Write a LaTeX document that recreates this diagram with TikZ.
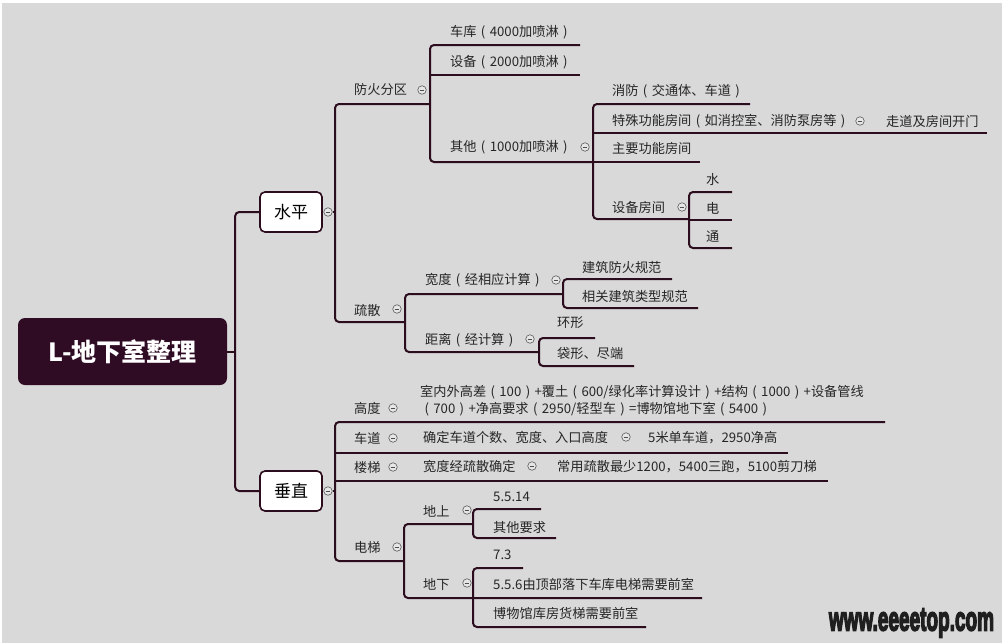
\documentclass[tikz,border=0pt]{standalone}
\usepackage{fontspec}
\setmainfont{Noto Sans CJK SC}
\newfontfamily\wmfont{Liberation Sans}
\definecolor{bg}{HTML}{D9D9D9}
\definecolor{ln}{HTML}{2B0D1E}
\definecolor{rootc}{HTML}{2F0B24}
\definecolor{txtc}{HTML}{262626}
\definecolor{cfill}{HTML}{E6E6E6}
\newcommand\ulc[4]{\coordinate (#1-s) at (#2,#4);\coordinate (#1-e) at (#3,#4);}
\newcommand\lpar{\makebox[1em]{(}}
\newcommand\rpar{\makebox[1em]{)}}
\begin{document}
\begin{tikzpicture}[x=1pt,y=-1pt,
  conn/.style={draw=ln,line width=2pt,rounded corners=4pt},
  uline/.style={draw=ln,line width=2pt},
  t/.style={anchor=west,inner sep=0pt,text=txtc,font=\fontsize{13.2}{16}\selectfont},
  coll/.style={circle,draw=black!65,fill=cfill,line width=0.6pt,minimum size=8.5pt,inner sep=0pt,
    path picture={\draw[black!70,line width=0.7pt]([xshift=-2.3pt]path picture bounding box.center)--([xshift=2.3pt]path picture bounding box.center);}},
  topbox/.style={draw=ln,line width=1.6pt,fill=white,rounded corners=5pt,minimum width=62pt,minimum height=40pt,inner sep=0pt,text=black,font=\fontsize{17}{20}\selectfont},
  rootbox/.style={fill=rootc,rounded corners=7pt,minimum width=209pt,minimum height=67pt,inner sep=0pt,text=white,font=\fontsize{25}{30}\selectfont\bfseries},
  wm/.style={inner sep=0pt,font=\wmfont\bfseries\fontsize{25}{28}\selectfont}]
% background
\path[fill=white] (0,0) rectangle (1007,643);
\path[fill=bg] (2,3) rectangle (1002,643);
\useasboundingbox (0,0) rectangle (1007,643);

% underline coordinates
\ulc{fh}{335}{430}{104}
\ulc{ck}{430}{580}{45}
\ulc{sb}{430}{580}{75}
\ulc{qt}{430}{593}{162}
\ulc{xf}{593}{750}{104}
\ulc{ts}{593}{868}{133}
\ulc{zd}{868}{987}{133}
\ulc{zy}{593}{700}{162}
\ulc{sf}{593}{689}{219}
\ulc{sh}{689}{732}{192}
\ulc{di}{689}{732}{220}
\ulc{tg}{689}{732}{248}
\ulc{ss}{335}{405}{322}
\ulc{kd}{405}{563}{294}
\ulc{jz}{563}{672}{279}
\ulc{xg}{563}{698}{308}
\ulc{jl}{405}{539}{352}
\ulc{hx}{539}{595}{338}
\ulc{dx}{539}{634}{366}
\ulc{gd}{335}{410}{422}
\ulc{gdk}{410}{885}{422}
\ulc{cd}{335}{410}{453}
\ulc{cdk}{410}{636}{453}
\ulc{cdd}{636}{788}{453}
\ulc{lt}{335}{410}{481}
\ulc{ltk}{410}{545}{481}
\ulc{ltd}{545}{828}{481}
\ulc{dt}{335}{404}{561}
\ulc{ds}{404}{473}{524}
\ulc{aa}{473}{541}{509}
\ulc{ab}{473}{556}{538}
\ulc{dxx}{404}{473}{598}
\ulc{ba}{473}{523}{568}
\ulc{bb}{473}{702}{598}
\ulc{bc}{473}{646}{627}

% root and main boxes
\node[rootbox] (root) at (122.5,351.5) {L-地下室整理};
\node[topbox] (sp) at (291,212) {水平};
\node[topbox] (cz) at (291,491) {垂直};

% connectors
\draw[conn] (root.east) -- ++(9,0);
\draw[conn] (sp.west) -- ++(-24,0) |- (cz.west);
\draw[conn] (fh-e) -- (fh-s) -- (ss-s) -- (ss-e);
\draw[conn] (ck-e) -- (ck-s) -- (qt-s) -- (qt-e);
\draw[uline] (sb-s) -- (sb-e);
\draw[conn] (xf-e) -- (xf-s) -- (sf-s) -- (sf-e);
\draw[uline] (ts-s) -- (zd-e);
\draw[uline] (zy-s) -- (zy-e);
\draw[conn] (sh-e) -- (sh-s) -- (tg-s) -- (tg-e);
\draw[uline] (di-s) -- (di-e);
\draw[conn] (kd-e) -- (kd-s) -- (jl-s) -- (jl-e);
\draw[conn] (jz-e) -- (jz-s) -- (xg-s) -- (xg-e);
\draw[conn] (hx-e) -- (hx-s) -- (dx-s) -- (dx-e);
\draw[conn] (gdk-e) -- (gd-s) -- (dt-s) -- (dt-e);
\draw[uline] (cd-s) -- (cdd-e);
\draw[uline] (lt-s) -- (ltd-e);
\draw[conn] (ds-e) -- (ds-s) -- (dxx-s) -- (bb-e);
\draw[conn] (aa-e) -- (aa-s) -- (ab-s) -- (ab-e);
\draw[conn] (ba-e) -- (ba-s) -- (bc-s) -- (bc-e);

% collapse circles
\node[coll] (c-sp) at (328,212) {};
\node[coll] (c-cz) at (328,491) {};
\draw[uline] (c-sp.east) -- (c-sp.east -| fh-s);
\draw[uline] (c-cz.east) -- (c-cz.east -| gd-s);
\node[coll] (c-fh) at (422,90) {};
\node[coll] (c-qt) at (585,147) {};
\node[coll] (c-ts) at (860,121) {};
\node[coll] (c-sf) at (682,207) {};
\node[coll] (c-ss) at (397,309) {};
\node[coll] (c-kd) at (556,280) {};
\node[coll] (c-jl) at (530,339) {};
\node[coll] (c-gd) at (393,408) {};
\node[coll] (c-cd) at (393,438) {};
\node[coll] (c-cdk) at (626,437) {};
\node[coll] (c-lt) at (393,467) {};
\node[coll] (c-ltk) at (532,466) {};
\node[coll] (c-dt) at (397,547) {};
\node[coll] (c-ds) at (467,510) {};
\node[coll] (c-dxx) at (467,583) {};

% texts
\node[t] (fh) at (354,90) {防火分区};
\node[t] (ck) at (450,32) {车库\lpar 4000加喷淋\rpar};
\node[t] (sb) at (450,62) {设备\lpar 2000加喷淋\rpar};
\node[t] (qt) at (450,147) {其他\lpar 1000加喷淋\rpar};
\node[t] (xf) at (612,91) {消防\lpar 交通体、车道\rpar};
\node[t] (ts) at (612,121) {特殊功能房间\lpar 如消控室、消防泵房等\rpar};
\node[t] (zd) at (886,121) {走道及房间开门};
\node[t] (zy) at (612,148) {主要功能房间};
\node[t] (sf) at (612,207) {设备房间};
\node[t] (sh) at (706,179) {水};
\node[t] (di) at (706,208) {电};
\node[t] (tg) at (706,237) {通};
\node[t] (ss) at (354,310) {疏散};
\node[t] (kd) at (425,280) {宽度\lpar 经相应计算\rpar};
\node[t] (jz) at (582,267) {建筑防火规范};
\node[t] (xg) at (582,296) {相关建筑类型规范};
\node[t] (jl) at (425,340) {距离\lpar 经计算\rpar};
\node[t] (hx) at (557,323) {环形};
\node[t] (dx) at (557,354) {袋形、尽端};
\node[t] (gd) at (354,408) {高度};
\node[t,align=left,font=\fontsize{13.2}{17}\selectfont] (gdk) at (420,400.5) {室内外高差\lpar 100\rpar+覆土\lpar 600/绿化率计算设计\rpar+结构\lpar 1000\rpar+设备管线\\\lpar 700\rpar+净高要求\lpar 2950/轻型车\rpar=博物馆地下室\lpar 5400\rpar};
\node[t] (cd) at (354,438) {车道};
\node[t] (cdk) at (423,438) {确定车道个数、宽度、入口高度};
\node[t] (cdd) at (648,438) {5米单车道，2950净高};
\node[t] (lt) at (354,467) {楼梯};
\node[t] (ltk) at (423,467) {宽度经疏散确定};
\node[t] (ltd) at (557,467) {常用疏散最少1200，5400三跑，5100剪刀梯};
\node[t] (dt) at (354,547) {电梯};
\node[t] (ds) at (423,511) {地上};
\node[t] (aa) at (493,497) {5.5.14};
\node[t] (ab) at (493,527) {其他要求};
\node[t] (dxx) at (423,584) {地下};
\node[t] (ba) at (493,555) {7.3};
\node[t] (bb) at (493,584) {5.5.6由顶部落下车库电梯需要前室};
\node[t] (bc) at (493,613) {博物馆库房货梯需要前室};

% watermark
\node[wm,text=black!88] (wmk) at (911.5,623) {\special{pdf:literal direct 2 Tr 1.3 w 0.12 0.12 0.12 RG}\scalebox{0.76}[1.35]{www.eeeetop.com}\special{pdf:literal direct 0 Tr}};
\end{tikzpicture}
\end{document}
